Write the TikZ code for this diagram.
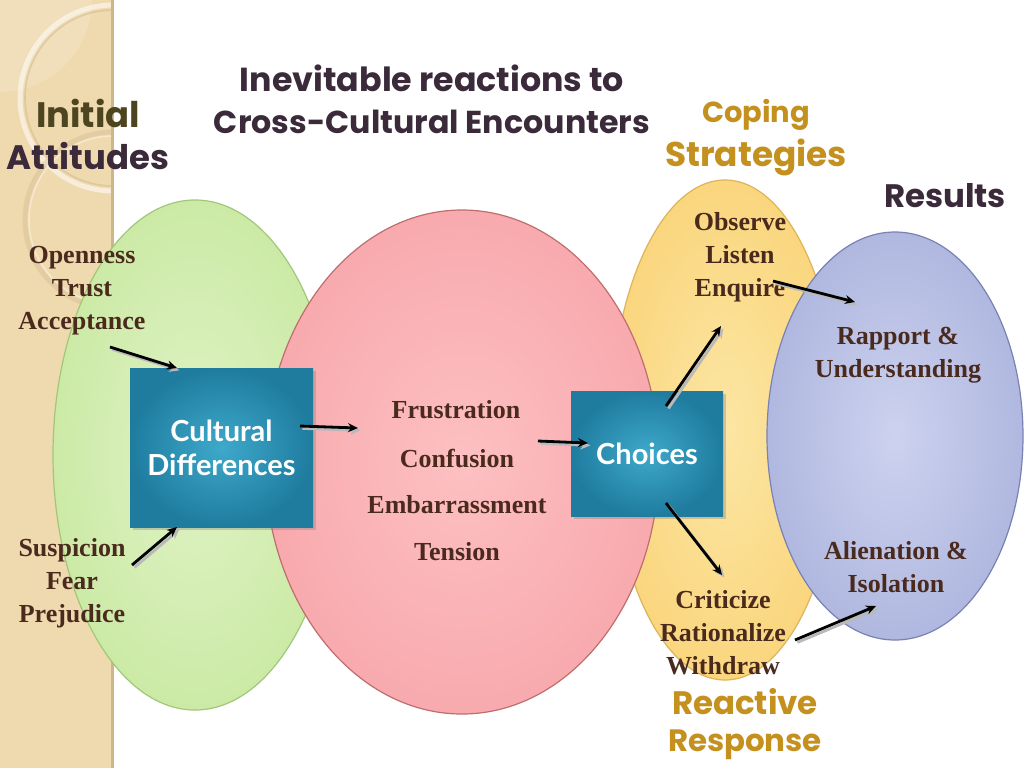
\documentclass[tikz,border=0pt]{standalone}
\usepackage{fontspec}
\setmainfont{Liberation Serif}
\newfontfamily\titlefont{Poppins}
\newfontfamily\boxfont{Lato}
\usetikzlibrary{arrows.meta,shadows}
\definecolor{band}{HTML}{EFD9AE}
\definecolor{bandedge}{HTML}{CDB68A}
\definecolor{txt}{HTML}{4B2A1E}
\definecolor{ttl}{HTML}{3A2A3A}
\definecolor{olive}{HTML}{4D4520}
\definecolor{gold}{HTML}{C4901E}
\definecolor{teal1}{HTML}{3EA9CB}
\definecolor{teal2}{HTML}{1F7C9F}
\definecolor{gIn}{HTML}{E0F3C6}
\definecolor{gOut}{HTML}{CCEAA6}
\definecolor{gEdge}{HTML}{A0C878}
\definecolor{yIn}{HTML}{FCE6A4}
\definecolor{yOut}{HTML}{FAD67E}
\definecolor{yEdge}{HTML}{DCB45A}
\definecolor{pIn}{HTML}{FDC0C2}
\definecolor{pOut}{HTML}{F8AAAE}
\definecolor{pEdge}{HTML}{BE6E6E}
\definecolor{bIn}{HTML}{CCD2EE}
\definecolor{bOut}{HTML}{B0B8E0}
\definecolor{bEdge}{HTML}{7882B4}
\tikzset{
  serif/.style={font=\fontsize{13pt}{16.5pt}\selectfont\bfseries, text=txt, align=center, inner sep=0pt},
  title/.style={font=\titlefont\bfseries\fontsize{19pt}{22pt}\selectfont, text=ttl, inner sep=0pt},
  goldtitle/.style={font=\titlefont\bfseries\fontsize{17pt}{21pt}\selectfont, text=gold, inner sep=0pt},
  tealbox/.style={inner color=teal1, outer color=teal2, draw=none, drop shadow={opacity=0.35, shadow xshift=1.5pt, shadow yshift=-1.5pt},
    font=\boxfont\bfseries\fontsize{14.5pt}{17pt}\selectfont, text=white, align=center},
  arr/.style={line width=1.4pt, draw=black, -{Stealth[length=5pt,width=4.5pt]},
    preaction={draw=gray!55, line width=1.4pt, -{Stealth[length=5pt,width=4.5pt]}, transform canvas={xshift=1.2pt,yshift=-1.2pt}}}
}
\begin{document}
\begin{tikzpicture}[x=0.5pt,y=-0.5pt]
\useasboundingbox (0,0) rectangle (1024,768);
\fill[white] (0,0) rectangle (1024,768);
% left band
\fill[band] (0,0) rectangle (112,768);
\begin{scope}
\clip (0,0) rectangle (112,768);
\fill[white, opacity=0.15] (0,0) circle[radius=92];
\draw[white, opacity=0.55, line width=2.5pt] (113,98) circle[radius=93];
\draw[bandedge, opacity=0.5, line width=0.8pt] (113,98) circle[radius=88];
\draw[bandedge, opacity=0.35, line width=2.5pt] (113,220) circle[radius=88];
\draw[white, opacity=0.4, line width=0.8pt] (113,220) circle[radius=84];
\end{scope}
\draw[bandedge, line width=1.5pt] (112,0) -- (112,768);
% ellipses
\shade[inner color=gIn, outer color=gOut] (195,455) ellipse [x radius=142, y radius=255];
\draw[gEdge, line width=0.6pt] (195,455) ellipse [x radius=142, y radius=255];
\shade[inner color=yIn, outer color=yOut] (725,430) ellipse [x radius=115, y radius=250];
\draw[yEdge, line width=0.6pt] (725,430) ellipse [x radius=115, y radius=250];
\shade[inner color=pIn, outer color=pOut] (462,462) ellipse [x radius=197, y radius=252];
\draw[pEdge, line width=0.6pt] (462,462) ellipse [x radius=197, y radius=252];
\shade[inner color=bIn, outer color=bOut] (895,436) ellipse [x radius=128, y radius=204];
\draw[bEdge, line width=0.6pt] (895,436) ellipse [x radius=128, y radius=204];
% boxes
\node[tealbox, minimum width=91.5pt, minimum height=79.5pt] (cd) at (221.5,447.5) {Cultural\\Differences};
\node[tealbox, minimum width=76pt, minimum height=62.5pt] (ch) at (647,453.5) {Choices};
% titles
\node[title] (t1) at (432,78) {\resizebox{192pt}{!}{Inevitable reactions to}};
\node[title] (t2) at (432,122) {\resizebox{218pt}{!}{Cross-Cultural Encounters}};
\node[title, text=olive] (ia1) at (88,113) {\resizebox{52pt}{!}{Initial}};
\node[title] (ia2) at (88,156) {\resizebox{81pt}{!}{Attitudes}};
\node[goldtitle] (cs1) at (756,115) {\resizebox{54pt}{!}{Coping}};
\node[goldtitle] (cs2) at (756,157) {\resizebox{91pt}{!}{Strategies}};
\node[title] (rs) at (945,196) {\resizebox{61pt}{!}{Results}};
\node[goldtitle] (rr1) at (745,702) {\resizebox{73pt}{!}{Reactive}};
\node[goldtitle] (rr2) at (745,745) {\resizebox{77pt}{!}{Response}};
% serif texts
\node[serif] (pos) at (82,291) {Openness\\Trust\\Acceptance};
\node[serif] (neg) at (72,583) {Suspicion\\Fear\\Prejudice};
\node[serif] (fr) at (456,410) {Frustration};
\node[serif] (co) at (457,458) {Confusion};
\node[serif] (em) at (457,505) {Embarrassment};
\node[serif] (te) at (457,552) {Tension};
\node[serif] (ole) at (740,257) {Observe\\Listen\\Enquire};
\node[serif] (crw) at (723,633) {Criticize\\Rationalize\\Withdraw};
\node[serif] (ru) at (898,355) {Rapport \&\\Understanding};
\node[serif] (ai) at (896,567) {Alienation \&\\Isolation};
% arrow endpoints
\coordinate (a1s) at (110,347); \coordinate (a1e) at (177,368);
\coordinate (a2s) at (132,565); \coordinate (a2e) at (177,527);
\coordinate (a3s) at (300,426); \coordinate (a3e) at (358,428);
\coordinate (a4s) at (538,441); \coordinate (a4e) at (588,443);
\coordinate (a5s) at (666,406); \coordinate (a5e) at (721,326);
\coordinate (a6s) at (666,503); \coordinate (a6e) at (722,575);
\coordinate (a7s) at (773,281); \coordinate (a7e) at (855,302);
\coordinate (a8s) at (795,640); \coordinate (a8e) at (876,606);
\draw[arr] (a1s) -- (a1e);
\draw[arr] (a2s) -- (a2e);
\draw[arr] (a3s) -- (a3e);
\draw[arr] (a4s) -- (a4e);
\draw[arr] (a5s) -- (a5e);
\draw[arr] (a6s) -- (a6e);
\draw[arr] (a7s) -- (a7e);
\draw[arr] (a8s) -- (a8e);
\end{tikzpicture}
\end{document}
